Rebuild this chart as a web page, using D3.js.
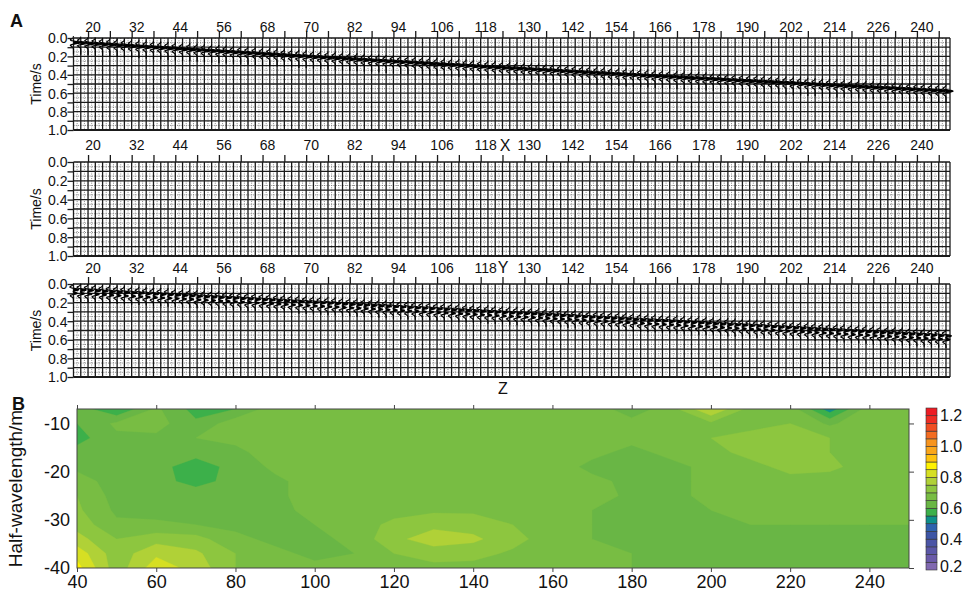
<!DOCTYPE html>
<html>
<head>
<meta charset="utf-8">
<script src="https://cdn.jsdelivr.net/npm/d3@7"></script>
<style>
body { margin: 0; background: #fff; }
text { font-family: "Liberation Sans", Arial, sans-serif; fill: #111; }
</style>
</head>
<body>
<script>

// ---- data ----
var channelLabels = ["20","32","44","56","68","70","82","94","106","118",
                     "130","142","154","166","178","190","202","214","226","240"];
var timeTicks  = [0, 0.1, 0.2, 0.3, 0.4, 0.5, 0.6, 0.7, 0.8, 0.9, 1.0];
var timeLabels = ["0.0", "0.2", "0.4", "0.6", "0.8", "1.0"];
var traceCount = 121;

// first-break pick (s) on each trace, X component
var arrivalX = [
  .050,.055,.060,.064,.069,.074,.079,.083,.088,.093,.098,.103,.107,.112,.117,.122,.126,.131,.136,.141,
  .146,.150,.155,.160,.164,.169,.174,.178,.183,.188,.193,.197,.202,.207,.211,.216,.220,.225,.230,.234,
  .239,.244,.248,.253,.257,.262,.266,.271,.275,.280,.285,.289,.293,.298,.302,.307,.311,.316,.320,.325,
  .329,.333,.338,.342,.346,.351,.355,.360,.364,.368,.373,.377,.381,.385,.390,.394,.398,.402,.407,.411,
  .415,.419,.423,.428,.432,.436,.440,.444,.448,.452,.457,.461,.465,.469,.473,.477,.481,.485,.489,.493,
  .498,.502,.506,.510,.514,.518,.522,.526,.530,.534,.538,.542,.546,.550,.554,.558,.562,.566,.570,.574,
  .578
];
// first-break pick (s) on each trace, Z component
var arrivalZ = [
  .062,.066,.070,.074,.079,.083,.087,.091,.095,.099,.104,.108,.112,.116,.120,.124,.128,.133,.137,.141,
  .145,.149,.153,.157,.162,.166,.170,.174,.178,.182,.187,.191,.195,.199,.203,.207,.211,.216,.220,.224,
  .228,.232,.236,.240,.245,.249,.253,.257,.261,.265,.270,.274,.278,.282,.286,.290,.294,.299,.303,.307,
  .311,.315,.319,.323,.328,.332,.336,.340,.344,.348,.353,.357,.361,.365,.369,.373,.377,.382,.386,.390,
  .394,.398,.402,.406,.411,.415,.419,.423,.427,.431,.436,.440,.444,.448,.452,.456,.460,.465,.469,.473,
  .477,.481,.485,.489,.494,.498,.502,.506,.510,.514,.519,.523,.527,.531,.535,.539,.543,.548,.552,.556,
  .560
];

// panel B grid
var gridX = [40,50,60,70,80,90,100,110,120,130,140,150,160,170,180,190,200,210,220,230,240,250];
var gridY = [-7,-10,-13,-16,-19,-22,-25,-28,-31,-34,-37,-40];
var ratio = [
  [.63,.55,.66,.58,.60,.68,.68,.68,.68,.68,.68,.68,.68,.68,.62,.68,.80,.68,.68,.52,.68,.67],
  [.60,.66,.67,.61,.68,.69,.69,.69,.69,.69,.69,.69,.68,.68,.67,.68,.69,.69,.70,.64,.69,.68],
  [.58,.64,.64,.65,.66,.67,.68,.69,.69,.69,.69,.69,.68,.67,.66,.67,.70,.71,.71,.70,.69,.68],
  [.62,.62,.62,.62,.64,.67,.68,.69,.69,.69,.69,.68,.67,.66,.64,.66,.69,.71,.71,.70,.69,.68],
  [.64,.62,.62,.57,.62,.66,.68,.69,.69,.69,.68,.68,.67,.64,.63,.64,.66,.69,.71,.71,.68,.67],
  [.67,.63,.62,.58,.62,.64,.67,.68,.69,.69,.68,.68,.67,.66,.64,.64,.66,.68,.69,.68,.67,.66],
  [.70,.63,.62,.63,.63,.64,.67,.68,.68,.68,.68,.68,.68,.67,.64,.64,.66,.67,.68,.68,.67,.67],
  [.71,.64,.63,.64,.63,.64,.66,.66,.67,.69,.69,.68,.67,.65,.64,.64,.65,.66,.66,.66,.66,.66],
  [.73,.66,.66,.65,.64,.64,.65,.66,.72,.74,.73,.70,.67,.65,.64,.64,.64,.65,.65,.65,.65,.65],
  [.77,.70,.73,.72,.66,.64,.64,.66,.74,.77,.76,.72,.67,.65,.64,.64,.64,.64,.64,.64,.64,.64],
  [.83,.72,.79,.76,.70,.66,.64,.65,.70,.73,.72,.69,.67,.66,.65,.64,.64,.64,.64,.64,.64,.64],
  [.87,.72,.83,.78,.70,.68,.66,.66,.67,.68,.68,.67,.66,.66,.65,.64,.64,.64,.64,.64,.64,.64]
];
var barLevels = [0.2,0.25,0.3,0.35,0.4,0.45,0.5,0.55,0.6,0.65,0.7,0.75,0.8,0.85,0.9,0.95,1.0,1.05,1.1,1.15,1.2,1.25];
var barColors = ["#8068b0","#6a5aa9","#5b57a7","#4b55a6","#3d55a5","#2e62ae","#0e8f8a","#3cb04a",
                 "#69b645","#78bd43","#8dc63f","#b0d137","#d6df23","#fff200","#ffc20e","#faa61a",
                 "#f7941d","#f36c21","#f04e23","#ee2d24","#ed1c24"];
var barLabels = ["0.2","0.4","0.6","0.8","1.0","1.2"];
var bTicksX = [40,60,80,100,120,140,160,180,200,220,240];
var bTicksY = [-10,-20,-30,-40];

// ---- layout ----
var svg = d3.select("body").append("svg")
	.attr("width", 964)
	.attr("height", 594);

var xs = d3.scaleLinear().domain([0, traceCount - 1]).range([73.5, 946]);
var gridLeft = 73.5, gridRight = 950;

var panels = [
	{top: 38,  bottom: 130, labelY: 32,  arr: arrivalX, amp: 7, dbl: false, letter: "X", letterX: 505, letterY: 151},
	{top: 162, bottom: 256, labelY: 150, arr: null,                         letter: "Y", letterX: 503, letterY: 273},
	{top: 284, bottom: 377, labelY: 273, arr: arrivalZ, amp: 8, dbl: true,  letter: "Z", letterX: 503, letterY: 394}
];

function ricker(tau, f) {
	var a = Math.PI * Math.PI * f * f * tau * tau;
	return (1 - 2 * a) * Math.exp(-a);
}

svg.append("text").attr("x", 10).attr("y", 27)
	.style("font-size", "18px").style("font-weight", "bold").text("A");

panels.forEach(function(p) {
	var ys = d3.scaleLinear().domain([0, 1]).range([p.top, p.bottom]);
	var g = svg.append("g");

	// fine dotted grid
	var halfT = d3.range(0.05, 1, 0.1);
	g.selectAll(".dh").data(halfT).enter().append("line")
		.attr("x1", gridLeft).attr("x2", gridRight)
		.attr("y1", d => ys(d)).attr("y2", d => ys(d))
		.attr("stroke", "#777").attr("stroke-width", 0.9).attr("stroke-dasharray", "1,1.3");
	g.selectAll(".dv").data(d3.range(traceCount - 1)).enter().append("line")
		.attr("x1", d => xs(d + 0.5)).attr("x2", d => xs(d + 0.5))
		.attr("y1", p.top).attr("y2", p.bottom)
		.attr("stroke", "#777").attr("stroke-width", 0.9).attr("stroke-dasharray", "1,1.3");

	// time lines
	g.selectAll(".th").data(timeTicks).enter().append("line")
		.attr("x1", gridLeft).attr("x2", gridRight)
		.attr("y1", d => ys(d)).attr("y2", d => ys(d))
		.attr("stroke", "#1a1a1a").attr("stroke-width", 1.3);

	// traces
	g.selectAll(".tv").data(d3.range(traceCount)).enter().append("line")
		.attr("x1", d => xs(d)).attr("x2", d => xs(d))
		.attr("y1", p.top).attr("y2", p.bottom)
		.attr("stroke", "#1a1a1a").attr("stroke-width", 1.3);
	g.append("line").attr("x1", gridRight).attr("x2", gridRight)
		.attr("y1", p.top).attr("y2", p.bottom)
		.attr("stroke", "#1a1a1a").attr("stroke-width", 1.3);
	g.append("line").attr("x1", gridLeft).attr("x2", gridRight)
		.attr("y1", p.bottom).attr("y2", p.bottom)
		.attr("stroke", "#1a1a1a").attr("stroke-width", 1.8);

	// wiggles
	if (p.arr) {
		var taus = d3.range(-0.07, 0.13, 0.002);
		p.arr.forEach(function(t0, i) {
			var x0 = xs(i);
			var pts = taus.map(function(tau) {
				var w = ricker(tau, 13);
				if (p.dbl) w = w + 0.85 * ricker(tau - 0.035, 13);
				return {t: t0 + tau, w: w};
			});
			g.append("path")
				.attr("d", d3.area()
					.y(d => ys(d.t))
					.x0(x0)
					.x1(d => x0 + Math.max(0, p.amp * d.w))(pts))
				.attr("fill", "#000");
			g.append("path")
				.attr("d", d3.line().x(d => x0 + p.amp * d.w).y(d => ys(d.t))(pts))
				.attr("fill", "none").attr("stroke", "#000").attr("stroke-width", 1.2);
		});
	}

	// left axis
	var yAxis = d3.axisLeft(ys).tickValues(timeTicks).tickSize(6)
		.tickFormat(function(d, i) { return i % 2 === 0 ? timeLabels[i / 2] : ""; });
	var ya = svg.append("g").attr("transform", "translate(" + gridLeft + ",0)").call(yAxis);
	ya.select(".domain").remove();
	ya.selectAll("line").attr("stroke", "#1a1a1a").attr("stroke-width", 1.3);
	ya.selectAll("text").style("font-size", "14px").attr("x", -6).attr("dy", "0.35em");

	svg.append("text")
		.attr("transform", "translate(41," + ((p.top + p.bottom) / 2) + ") rotate(-90)")
		.attr("text-anchor", "middle")
		.style("font-size", "14px")
		.text("Time/s");

	// top ticks and channel labels
	var topTicks = d3.range(40).map(k => 2 + 3 * k);
	var xa = svg.append("g").attr("transform", "translate(0," + p.top + ")")
		.call(d3.axisTop(xs).tickValues(topTicks).tickSize(7).tickFormat(""));
	xa.select(".domain").remove();
	xa.selectAll("line").attr("stroke", "#1a1a1a").attr("stroke-width", 1.3);
	svg.selectAll(null).data(channelLabels).enter().append("text")
		.attr("x", (d, i) => xs(2 + 6 * i) + 5)
		.attr("y", p.labelY)
		.attr("text-anchor", "middle")
		.style("font-size", "14px")
		.text(d => d);

	svg.append("text").attr("x", p.letterX).attr("y", p.letterY)
		.attr("text-anchor", "middle")
		.style("font-size", "16px")
		.text(p.letter);
});

// ---- panel B ----
svg.append("text").attr("x", 12).attr("y", 410)
	.style("font-size", "18px").style("font-weight", "bold").text("B");

var xB = d3.scaleLinear().domain([40, 250]).range([77, 909]);
var yB = d3.scaleLinear().domain([-40, -7]).range([568, 409]);

svg.append("defs").append("clipPath").attr("id", "plotClip")
	.append("rect")
	.attr("x", xB(40)).attr("y", yB(-7))
	.attr("width", xB(250) - xB(40)).attr("height", yB(-40) - yB(-7));

var nx = gridX.length, ny = gridY.length;
var values = [];
ratio.forEach(function(row) { row.forEach(function(v) { values.push(v); }); });

var contours = d3.contours().size([nx, ny]).thresholds(barLevels.slice(0, -1))(values);
var stepX = gridX[1] - gridX[0], stepY = gridY[1] - gridY[0];
var proj = d3.geoTransform({
	point: function(px, py) {
		this.stream.point(xB(gridX[0] + (px - 0.5) * stepX), yB(gridY[0] + (py - 0.5) * stepY));
	}
});
var path = d3.geoPath(proj);

svg.append("g").attr("clip-path", "url(#plotClip)")
	.selectAll("path").data(contours).enter().append("path")
	.attr("d", path)
	.attr("fill", d => barColors[barLevels.indexOf(d.value)])
	.attr("stroke", d => barColors[barLevels.indexOf(d.value)])
	.attr("stroke-width", 0.3);

svg.append("rect")
	.attr("x", xB(40)).attr("y", yB(-7))
	.attr("width", xB(250) - xB(40)).attr("height", yB(-40) - yB(-7))
	.attr("fill", "none").attr("stroke", "#444").attr("stroke-width", 1);

function styleAxis(sel) {
	sel.select(".domain").remove();
	sel.selectAll("line").attr("stroke", "#444");
	sel.selectAll("text").style("font-size", "18px").attr("fill", "#111");
}

svg.append("g").attr("transform", "translate(0," + yB(-40) + ")")
	.call(d3.axisBottom(xB).tickValues(bTicksX).tickSize(4).tickPadding(3).tickFormat(d => String(d)))
	.call(styleAxis);
svg.append("g").attr("transform", "translate(0," + yB(-7) + ")")
	.call(d3.axisTop(xB).tickValues(bTicksX).tickSize(4).tickFormat(""))
	.call(styleAxis);
svg.append("g").attr("transform", "translate(" + xB(40) + ",0)")
	.call(d3.axisLeft(yB).tickValues(bTicksY).tickSize(0).tickPadding(7).tickFormat(d => String(d)))
	.call(styleAxis);
svg.append("g").attr("transform", "translate(" + xB(250) + ",0)")
	.call(d3.axisRight(yB).tickValues(bTicksY).tickSize(5).tickFormat(""))
	.call(styleAxis);

svg.append("text")
	.attr("transform", "translate(22," + ((yB(-7) + yB(-40)) / 2) + ") rotate(-90)")
	.attr("text-anchor", "middle")
	.style("font-size", "19px")
	.text("Half-wavelength/m");

// colour bar
var yBar = d3.scaleLinear().domain([0.2, 1.25]).range([570, 408]);
svg.append("g").selectAll("rect").data(barColors).enter().append("rect")
	.attr("x", 926).attr("width", 11)
	.attr("y", (d, i) => yBar(barLevels[i + 1]))
	.attr("height", (d, i) => yBar(barLevels[i]) - yBar(barLevels[i + 1]))
	.attr("fill", d => d)
	.attr("stroke", "#333").attr("stroke-width", 0.6);
svg.append("g").selectAll("text").data(barLabels).enter().append("text")
	.attr("x", 940)
	.attr("y", d => Math.min(yBar(+d), 566))
	.attr("dy", "0.36em")
	.style("font-size", "16px")
	.text(d => d);

</script>
</body>
</html>
